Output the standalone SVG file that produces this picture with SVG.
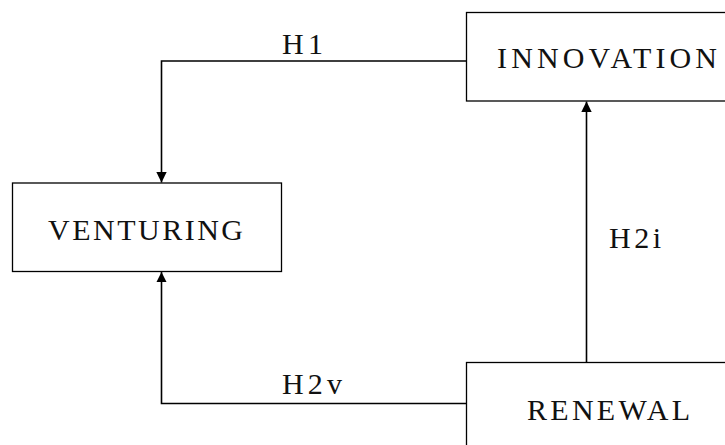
<svg xmlns="http://www.w3.org/2000/svg" width="725" height="445" viewBox="0 0 725 445">
  <defs>
    <style>
      .box { fill: #ffffff; stroke: #000000; stroke-width: 1.3; }
      .label { font-family: "Liberation Serif", "Times New Roman", serif; font-size: 30px; fill: #111111; }
      .edge { fill: none; stroke: #000000; stroke-width: 1.6; }
    </style>
    <marker id="arrow" viewBox="0 0 10 10" refX="10" refY="5" markerWidth="6.5" markerHeight="6.5" markerUnits="strokeWidth" orient="auto">
      <path d="M0,0 L10,5 L0,10 Z" fill="#000000"/>
    </marker>
  </defs>
  <rect width="725" height="445" fill="#ffffff"/>

  <!-- connectors -->
  <g id="connectors">
    <path id="edge-h1" class="edge" d="M466.5,61 H161.5 V182.5" marker-end="url(#arrow)"/>
    <path id="edge-h2v" class="edge" d="M466.5,403.5 H161.5 V272" marker-end="url(#arrow)"/>
    <path id="edge-h2i" class="edge" d="M586.5,362.5 V101.5" marker-end="url(#arrow)"/>
    <text class="label" x="282" y="54" textLength="41" lengthAdjust="spacing">H1</text>
    <text class="label" x="282" y="394" textLength="60" lengthAdjust="spacing">H2v</text>
    <text class="label" x="609" y="248" textLength="52" lengthAdjust="spacing">H2i</text>
  </g>

  <!-- nodes -->
  <g id="innovation">
    <rect class="box" x="466.5" y="12.5" width="270" height="88.5"/>
    <text class="label" x="497" y="68" textLength="220" lengthAdjust="spacing">INNOVATION</text>
  </g>
  <g id="venturing">
    <rect class="box" x="12.5" y="183" width="269" height="88.5"/>
    <text class="label" x="48" y="240" textLength="195" lengthAdjust="spacing">VENTURING</text>
  </g>
  <g id="renewal">
    <rect class="box" x="466.5" y="362.5" width="270" height="100"/>
    <text class="label" x="527" y="420" textLength="163" lengthAdjust="spacing">RENEWAL</text>
  </g>
</svg>
